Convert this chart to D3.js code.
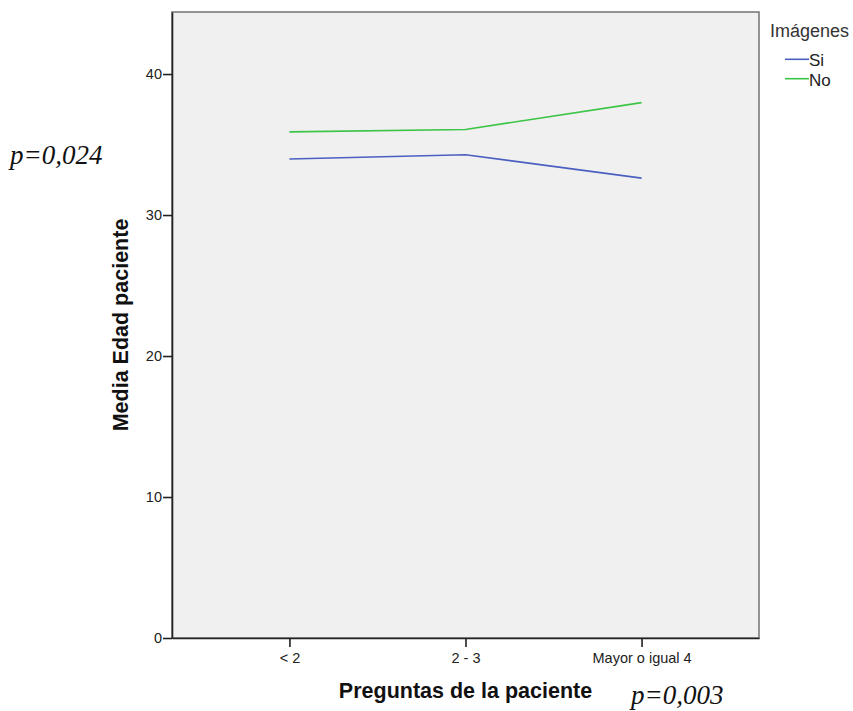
<!DOCTYPE html>
<html>
<head>
<meta charset="utf-8">
<script src="https://cdn.jsdelivr.net/npm/d3@7"></script>
<style>
  html, body { margin: 0; padding: 0; background: #ffffff; }
  svg { display: block; }
</style>
</head>
<body>
<svg id="chart" width="853" height="711"></svg>
<script>
// Mean patient age by number of questions asked, split by imaging
const categories = ["< 2", "2 - 3", "Mayor o igual 4"];
const seriesNames = ["Si", "No"];
const siValues = [33.97, 34.28, 32.62];
const noValues = [35.90, 36.07, 37.97];
const yTicks = [0, 10, 20, 30, 40];
const seriesColors = ["#4a5fc0", "#3cc446"];

const svg = d3.select("#chart");
const plot = { left: 172, right: 759, top: 12, bottom: 638 };
const sans = "Liberation Sans, Arial, sans-serif";

const x = d3.scalePoint()
  .domain(categories)
  .range([plot.left, plot.right])
  .padding(0.667);

const y = d3.scaleLinear()
  .domain([0, 44.4])
  .range([plot.bottom, plot.top]);

// plot background and outer frame
svg.append("rect")
  .attr("x", plot.left).attr("y", plot.top)
  .attr("width", plot.right - plot.left)
  .attr("height", plot.bottom - plot.top)
  .attr("fill", "#f0f0f0")
  .attr("stroke", "#7a7a7a")
  .attr("stroke-width", 1.6);

// y axis
const yAxis = svg.append("g")
  .attr("transform", `translate(${plot.left},0)`)
  .call(d3.axisLeft(y).tickValues(yTicks).tickSize(9).tickSizeOuter(0)
    .tickPadding(1).tickFormat(d3.format("d")));
yAxis.select(".domain").attr("stroke", "#222").attr("stroke-width", 1.6);
yAxis.selectAll(".tick line").attr("stroke", "#222").attr("stroke-width", 1.6);
yAxis.selectAll(".tick text")
  .attr("fill", "#222")
  .style("font-family", sans)
  .style("font-size", "14.5px");

// x axis
const xAxis = svg.append("g")
  .attr("transform", `translate(0,${plot.bottom})`)
  .call(d3.axisBottom(x).tickSize(9).tickSizeOuter(0).tickPadding(6));
xAxis.select(".domain").attr("stroke", "#222").attr("stroke-width", 1.6);
xAxis.selectAll(".tick line").attr("stroke", "#222").attr("stroke-width", 1.6);
xAxis.selectAll(".tick text")
  .attr("fill", "#222")
  .style("font-family", sans)
  .style("font-size", "14.5px");

// series lines
const line = d3.line()
  .x((d, i) => x(categories[i]))
  .y(d => y(d));

[siValues, noValues].forEach((vals, k) => {
  svg.append("path")
    .datum(vals)
    .attr("d", line)
    .attr("fill", "none")
    .attr("stroke", seriesColors[k])
    .attr("stroke-width", 1.6);
});

// axis titles
svg.append("text")
  .attr("x", (plot.left + plot.right) / 2)
  .attr("y", 698)
  .attr("text-anchor", "middle")
  .style("font-family", sans)
  .style("font-weight", "bold")
  .style("font-size", "21.5px")
  .attr("fill", "#111")
  .text("Preguntas de la paciente");

svg.append("text")
  .attr("transform", `translate(128,${(plot.top + plot.bottom) / 2}) rotate(-90)`)
  .attr("text-anchor", "middle")
  .style("font-family", sans)
  .style("font-weight", "bold")
  .style("font-size", "21.5px")
  .attr("fill", "#111")
  .text("Media Edad paciente");

// legend
const legend = svg.append("g");
legend.append("text")
  .attr("x", 770).attr("y", 37)
  .style("font-family", sans)
  .style("font-size", "18px")
  .attr("fill", "#333")
  .text("Imágenes");
seriesNames.forEach((name, k) => {
  const ly = 59.3 + k * 19.4;
  legend.append("line")
    .attr("x1", 785).attr("x2", 809)
    .attr("y1", ly).attr("y2", ly)
    .attr("stroke", seriesColors[k])
    .attr("stroke-width", 1.6);
  legend.append("text")
    .attr("x", 809).attr("y", ly + 7)
    .style("font-family", sans)
    .style("font-size", "17px")
    .attr("fill", "#222")
    .text(name);
});

// significance annotations
const pStyle = sel => sel
  .style("font-family", "Liberation Serif, Times New Roman, serif")
  .style("font-style", "italic")
  .style("font-size", "27px")
  .attr("fill", "#111");

svg.append("text").attr("x", 10).attr("y", 164).call(pStyle).text("p=0,024");
svg.append("text").attr("x", 631).attr("y", 704).call(pStyle).text("p=0,003");
</script>
</body>
</html>
